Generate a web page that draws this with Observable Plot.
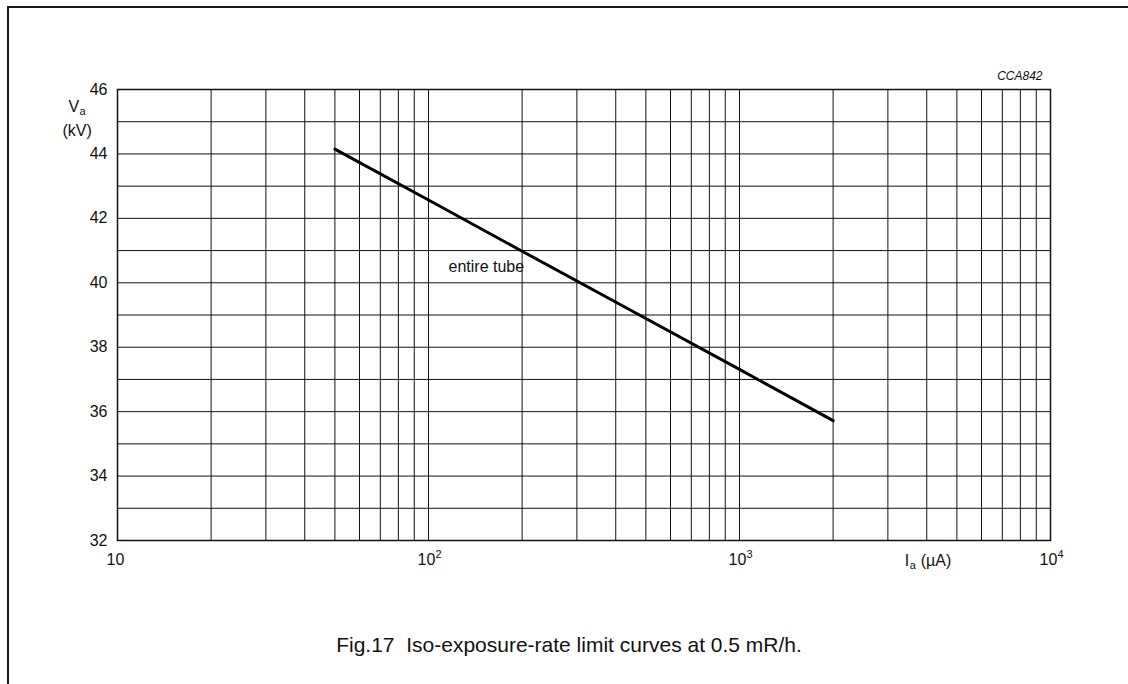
<!DOCTYPE html>
<html><head><meta charset="utf-8">
<script src="https://cdn.jsdelivr.net/npm/d3@7"></script>
<script src="https://cdn.jsdelivr.net/npm/@observablehq/plot@0.6"></script>
<style>
body{margin:0;background:#fff;}
#page{position:relative;width:1128px;height:684px;overflow:hidden;font-family:"Liberation Sans",Arial,sans-serif;background:#fff;}
#border{position:absolute;left:7px;top:6px;right:-10px;bottom:-10px;border-top:2px solid #1a1a1a;border-left:2px solid #1a1a1a;}
#chart{position:absolute;left:0;top:0;}
</style></head><body>
<div id="page"><div id="border"></div><div id="chart"></div></div>
<script>
// curve "entire tube": anode current (µA) vs anode voltage (kV)
const currentUA = [50, 100, 200, 500, 1000, 2000];
const voltageKV = [44.15, 42.57, 40.98, 38.89, 37.31, 35.72];

// grid & ticks
const xGridTicks = [10,20,30,40,50,60,70,80,90,100,200,300,400,500,600,700,800,900,1000,2000,3000,4000,5000,6000,7000,8000,9000,10000];
const yGridTicks = [32,33,34,35,36,37,38,39,40,41,42,43,44,45,46];
const yTickLabels = [32,34,36,38,40,42,44,46];
const xTickValues = [10,100,1000,10000];
const xTickBase = ["10","10","10","10"];
const xTickExp = ["","2","3","4"];

const curveLabel = "entire tube";
const figCode = "CCA842";
const caption = "Fig.17  Iso-exposure-rate limit curves at 0.5 mR/h.";

const data = currentUA.map((x, i) => ({x, y: voltageKV[i]}));
const ink = "#111";
const font = "Liberation Sans, Arial, sans-serif";

const chart = Plot.plot({
  width: 1128, height: 684,
  marginLeft: 117, marginRight: 78, marginTop: 89, marginBottom: 144,
  style: {fontFamily: font, background: "transparent", color: ink},
  x: {type: "log", domain: [10, 10000], axis: null},
  y: {domain: [32, 46], axis: null},
  marks: [
    Plot.ruleX(xGridTicks, {stroke: "#111", strokeWidth: 1}),
    Plot.ruleY(yGridTicks, {stroke: "#111", strokeWidth: 1}),
    Plot.frame({stroke: "#111", strokeWidth: 1.5}),
    Plot.line(data, {x: "x", y: "y", stroke: "#000", strokeWidth: 3}),
    Plot.text(yTickLabels, {x: 10, y: d => d, text: d => String(d), textAnchor: "end", dx: -10, fontSize: 16, fill: ink}),
    Plot.text(xTickValues, {x: d => d, y: 32, text: (d, i) => xTickBase[i], textAnchor: "middle", dx: -2, dy: 19, fontSize: 16, fill: ink}),
    Plot.text(xTickValues, {x: d => d, y: 32, text: (d, i) => xTickExp[i], textAnchor: "start", dx: 7, dy: 14, fontSize: 11, fill: ink}),
    // x axis title  I_a (µA)
    Plot.text(["I"], {x: 4000, y: 32, text: d => d, textAnchor: "start", dx: -22, dy: 20, fontSize: 16, fill: ink}),
    Plot.text(["a"], {x: 4000, y: 32, text: d => d, textAnchor: "start", dx: -17, dy: 25, fontSize: 11, fill: ink}),
    Plot.text(["(\u00b5A)"], {x: 4000, y: 32, text: d => d, textAnchor: "start", dx: -6, dy: 20, fontSize: 16, fill: ink}),
    // y axis title V_a (kV)
    Plot.text(["V"], {x: 10, y: 46, text: d => d, textAnchor: "start", dx: -49, dy: 17, fontSize: 16, fill: ink}),
    Plot.text(["a"], {x: 10, y: 46, text: d => d, textAnchor: "start", dx: -38, dy: 22, fontSize: 11, fill: ink}),
    Plot.text(["(kV)"], {x: 10, y: 46, text: d => d, textAnchor: "start", dx: -55, dy: 41, fontSize: 16, fill: ink}),
    // curve label
    Plot.text([curveLabel], {x: 116, y: 40.5, text: d => d, textAnchor: "start", fontSize: 16, fill: ink}),
    // figure code
    Plot.text([figCode], {x: 10000, y: 46, text: d => d, textAnchor: "end", dx: -8, dy: -13, fontSize: 12, fontStyle: "italic", fill: ink}),
    // caption
    Plot.text([caption], {frameAnchor: "bottom", text: d => d, textAnchor: "middle", dx: -15, dy: 111, fontSize: 21, fill: ink})
  ]
});
document.getElementById("chart").appendChild(chart);
</script>
</body></html>
